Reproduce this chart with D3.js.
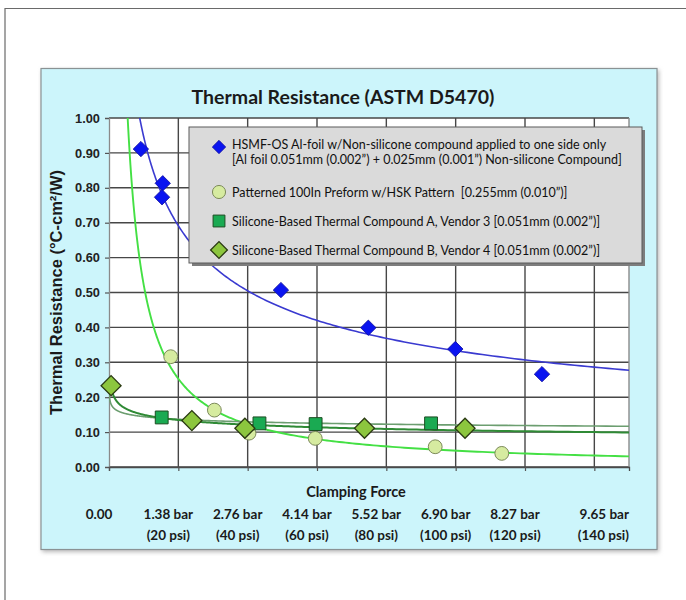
<!DOCTYPE html>
<html>
<head>
<meta charset="utf-8">
<script src="https://cdn.jsdelivr.net/npm/d3@7/dist/d3.min.js"></script>
<style>
  html, body { margin: 0; padding: 0; background: #ffffff; }
  svg { display: block; }
  .legend-text { white-space: pre; }
</style>
</head>
<body>
<svg id="chart" width="686" height="600"></svg>
<script>
// ---- Data -------------------------------------------------------------
// Clamping force tick positions (psi) and their two-line labels
const tickPsi    = [0, 20, 40, 60, 80, 100, 120, 140];
const barLabels  = ["0.00", "1.38 bar", "2.76 bar", "4.14 bar", "5.52 bar", "6.90 bar", "8.27 bar", "9.65 bar"];
const psiLabels  = ["", "(20 psi)", "(40 psi)", "(60 psi)", "(80 psi)", "(100 psi)", "(120 psi)", "(140 psi)"];
const yTicks     = [0, 0.1, 0.2, 0.3, 0.4, 0.5, 0.6, 0.7, 0.8, 0.9, 1.0];

// HSMF-OS Al-foil with non-silicone compound
const hsmfPsi = [9.2, 15.5, 15.3, 49.6, 74.8, 99.9, 124.9];
const hsmfR   = [0.911, 0.813, 0.773, 0.507, 0.399, 0.338, 0.266];

// Patterned 100In preform with HSK pattern
const preformPsi = [17.8, 30.4, 40.4, 59.5, 94.1, 113.3];
const preformR   = [0.316, 0.163, 0.097, 0.082, 0.058, 0.039];

// Silicone-based compound A, vendor 3
const compAPsi = [15.2, 43.4, 59.6, 92.9];
const compAR   = [0.142, 0.125, 0.123, 0.125];

// Silicone-based compound B, vendor 4
const compBPsi = [0.6, 23.9, 39.2, 73.7, 102.7];
const compBR   = [0.233, 0.133, 0.111, 0.111, 0.111];

const legendLines = [
  ["HSMF-OS Al-foil w/Non-silicone compound applied to one side only",
   "[Al foil 0.051mm (0.002\u201D) + 0.025mm (0.001\u201D) Non-silicone Compound]"],
  ["Patterned 100In Preform w/HSK Pattern  [0.255mm (0.010\u201D)]"],
  ["Silicone-Based Thermal Compound A, Vendor 3 [0.051mm (0.002\u201D)]"],
  ["Silicone-Based Thermal Compound B, Vendor 4 [0.051mm (0.002\u201D)]"]
];

// ---- Series styling ---------------------------------------------------
const series = [
  { xs: hsmfPsi,    ys: hsmfR,    shape: "diamond", size: 118, fill: "#0a14f0", stroke: "#1010a0", sw: 0.8,
    line: "#3a3ad0", lw: 1.6, trendFrom: 0.6 },
  { xs: preformPsi, ys: preformR, shape: "circle",  size: 150, fill: "#d6eba0", stroke: "#7c8a5a", sw: 1,
    line: "#44e044", lw: 1.9, trendFrom: 0.6 },
  { xs: compAPsi,   ys: compAR,   shape: "square",  size: 165, fill: "#1aaa52", stroke: "#1d4d22", sw: 1,
    line: "#6c9e70", lw: 1.6, trendFrom: 0.02 },
  { xs: compBPsi,   ys: compBR,   shape: "diamond", size: 200, fill: "#8cc63e", stroke: "#2a3a12", sw: 1.3,
    line: "#2f8a35", lw: 2, trendFrom: 0.6 }
];

// ---- Layout ----------------------------------------------------------
const svg = d3.select("#chart");
const plot = { left: 109, right: 629, top: 118, bottom: 467 };
const x = d3.scaleLinear().domain([0, 150]).range([plot.left, plot.right]);
const y = d3.scaleLinear().domain([0, 1]).range([plot.bottom, plot.top]);

const CALIBRI = "Lato, 'Open Sans', sans-serif";
const ARIAL = "'Liberation Sans', Arial, sans-serif";

// outer frame
svg.append("path")
  .attr("d", "M5,600 L5,8.5 L686,8.5")
  .attr("fill", "none").attr("stroke", "#6a6a6a").attr("stroke-width", 1.2);

// chart panel with soft shadow
const defs = svg.append("defs");
const blur = defs.append("filter").attr("id", "soft").attr("x", "-10%").attr("y", "-10%").attr("width", "120%").attr("height", "120%");
blur.append("feGaussianBlur").attr("stdDeviation", 2);
defs.append("clipPath").attr("id", "plotClip")
  .append("rect").attr("x", plot.left).attr("y", plot.top)
  .attr("width", plot.right - plot.left).attr("height", plot.bottom - plot.top);

svg.append("rect").attr("x", 42).attr("y", 70).attr("width", 617).attr("height", 482)
  .attr("fill", "#b8b8b8").attr("filter", "url(#soft)");
svg.append("rect").attr("x", 41).attr("y", 68.5).attr("width", 616).attr("height", 481)
  .attr("fill", "#ccf5fb").attr("stroke", "#8a9294").attr("stroke-width", 1.2);

// title
svg.append("text").attr("x", 343).attr("y", 104).attr("text-anchor", "middle")
  .attr("font-family", CALIBRI).attr("font-weight", "bold").attr("font-size", 19.5)
  .attr("fill", "#1a1a1a").text("Thermal Resistance (ASTM D5470)");

// plot background
svg.append("rect").attr("x", plot.left).attr("y", plot.top)
  .attr("width", plot.right - plot.left).attr("height", plot.bottom - plot.top)
  .attr("fill", "#ffffff");

// grid lines
const grid = svg.append("g").attr("stroke", "#474747").attr("stroke-width", 1.4);
grid.selectAll(".gy").data(yTicks).join("line")
  .attr("x1", plot.left).attr("x2", plot.right)
  .attr("y1", d => y(d)).attr("y2", d => y(d));
grid.selectAll(".gx").data(tickPsi.slice(1)).join("line")
  .attr("y1", plot.top).attr("y2", plot.bottom)
  .attr("x1", d => x(d)).attr("x2", d => x(d));
grid.append("line").attr("x1", plot.right).attr("x2", plot.right)
  .attr("y1", plot.top).attr("y2", plot.bottom).attr("stroke", "#8a8a8a");

// axes
const yAxis = d3.axisLeft(y).tickValues(yTicks).tickFormat(d3.format(".2f")).tickSize(4).tickPadding(5);
const gy = svg.append("g").attr("transform", `translate(${plot.left},0)`).call(yAxis);
gy.select(".domain").attr("stroke", "#8a8a8a").attr("stroke-width", 1.3);
gy.selectAll(".tick line").attr("stroke", "#555").attr("stroke-width", 1.2);
gy.selectAll(".tick text").attr("font-family", ARIAL).attr("font-weight", "bold")
  .attr("font-size", 12.8).attr("fill", "#222");

const xAxis = d3.axisBottom(x).tickValues(tickPsi).tickFormat("").tickSize(4);
const gx = svg.append("g").attr("transform", `translate(0,${plot.bottom})`).call(xAxis);
gx.select(".domain").attr("stroke", "#4a4a4a").attr("stroke-width", 1.3);
gx.selectAll(".tick line").attr("stroke", "#555").attr("stroke-width", 1.2);

// y-axis title
svg.append("text")
  .attr("transform", `translate(62,${(plot.top + plot.bottom) / 2}) rotate(-90)`)
  .attr("text-anchor", "middle")
  .attr("font-family", ARIAL).attr("font-weight", "bold").attr("font-size", 16.5).attr("fill", "#1a1a1a")
  .text("Thermal Resistance (\u00B0C-cm\u00B2/W)");

// x-axis title and two-line labels
svg.append("text").attr("x", 356).attr("y", 497).attr("text-anchor", "middle")
  .attr("font-family", CALIBRI).attr("font-weight", "bold").attr("font-size", 14.5).attr("fill", "#1a1a1a")
  .text("Clamping Force");

const labelG = svg.append("g").attr("font-family", CALIBRI).attr("font-weight", "bold")
  .attr("font-size", 13.5).attr("fill", "#1a1a1a");
tickPsi.forEach((p, i) => {
  const last = i === tickPsi.length - 1;
  const lx = last ? plot.right : x(p) - 10;
  const anchor = last ? "end" : "middle";
  labelG.append("text").attr("x", lx).attr("y", 519).attr("text-anchor", anchor).text(barLabels[i]);
  if (psiLabels[i]) {
    labelG.append("text").attr("x", lx).attr("y", 540).attr("text-anchor", anchor).text(psiLabels[i]);
  }
});

// ---- Power-law trend lines (least squares in log-log space) ----------
function powerFit(xs, ys) {
  const lx = xs.map(Math.log), ly = ys.map(Math.log);
  const mx = d3.mean(lx), my = d3.mean(ly);
  const sxy = d3.sum(lx, (v, i) => (v - mx) * (ly[i] - my));
  const sxx = d3.sum(lx, v => (v - mx) * (v - mx));
  const b = sxy / sxx;
  const a = Math.exp(my - b * mx);
  return t => a * Math.pow(t, b);
}

const lineGen = d3.line().x(d => x(d[0])).y(d => y(d[1]));
const trendG = svg.append("g").attr("clip-path", "url(#plotClip)");
series.forEach(s => {
  const f = powerFit(s.xs, s.ys);
  const pts = [];
  const n = 400;
  const lo = Math.log(s.trendFrom), hi = Math.log(150);
  for (let k = 0; k <= n; k++) {
    const t = Math.exp(lo + (hi - lo) * k / n);
    pts.push([t, Math.min(f(t), 1.2)]);
  }
  trendG.append("path").attr("d", lineGen(pts))
    .attr("fill", "none").attr("stroke", s.line).attr("stroke-width", s.lw);
});

// ---- Markers --------------------------------------------------------
function symbolFor(s) {
  if (s.shape === "circle") return d3.symbol(d3.symbolCircle, s.size)();
  return d3.symbol(d3.symbolSquare, s.size)();
}
series.forEach(s => {
  svg.append("g").selectAll("path").data(s.xs.map((v, i) => [v, s.ys[i]])).join("path")
    .attr("d", symbolFor(s))
    .attr("transform", d => `translate(${x(d[0])},${y(d[1])})` + (s.shape === "diamond" ? " rotate(45)" : ""))
    .attr("fill", s.fill).attr("stroke", s.stroke).attr("stroke-width", s.sw);
});

// ---- Legend ---------------------------------------------------------
const lg = { x: 189, y: 127, w: 453, h: 136 };
svg.append("rect").attr("x", lg.x + 3).attr("y", lg.y + 3).attr("width", lg.w).attr("height", lg.h)
  .attr("fill", "#7d7d7d");
svg.append("rect").attr("x", lg.x).attr("y", lg.y).attr("width", lg.w).attr("height", lg.h)
  .attr("fill", "#dadada").attr("stroke", "#5a5a5a").attr("stroke-width", 1);

const rowY = [147, 192, 221, 250];
const legendScale = [0.75, 0.9, 0.85, 0.7];
const lgG = svg.append("g");
series.forEach((s, i) => {
  const sym = d3.symbol(s.shape === "circle" ? d3.symbolCircle : d3.symbolSquare, s.size * legendScale[i])();
  lgG.append("path").attr("d", sym)
    .attr("transform", `translate(219,${rowY[i]})` + (s.shape === "diamond" ? " rotate(45)" : ""))
    .attr("fill", s.fill).attr("stroke", s.stroke).attr("stroke-width", s.sw);
  legendLines[i].forEach((t, j) => {
    lgG.append("text").attr("class", "legend-text")
      .attr("x", 232).attr("y", rowY[i] + 4.5 + (i === 0 ? j * 15 - 3 : 0))
      .attr("font-family", CALIBRI).attr("font-size", 12.5).attr("fill", "#111").text(t);
  });
});
</script>
</body>
</html>
